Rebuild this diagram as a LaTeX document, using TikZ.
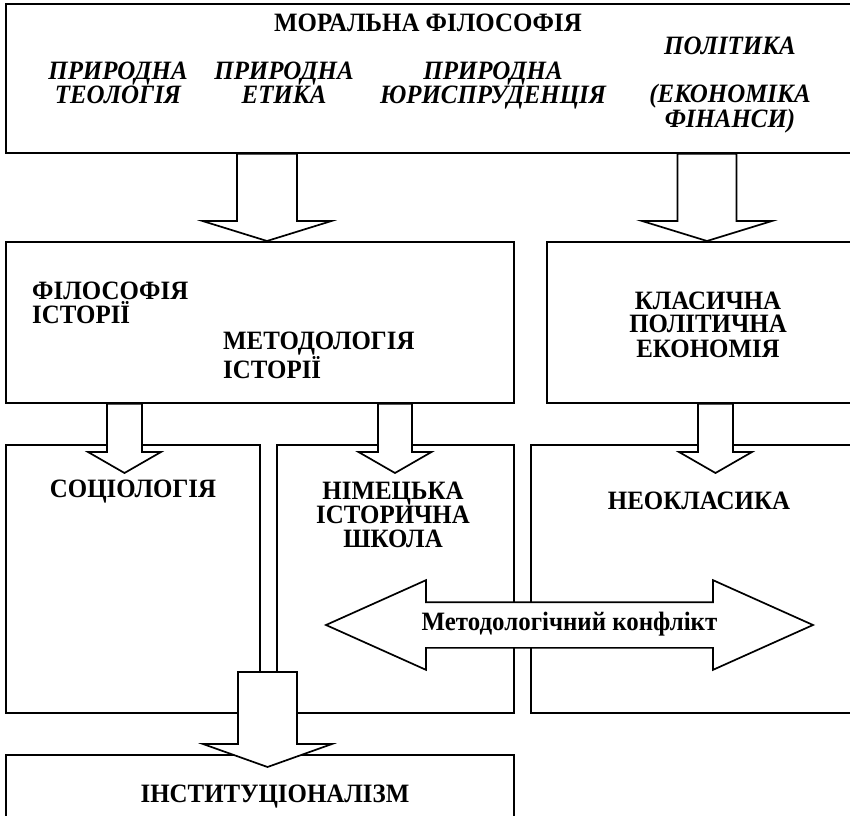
\documentclass[tikz,border=0pt]{standalone}
\usepackage{fontspec}
\setmainfont{Liberation Serif}[FakeStretch=0.94]
\usetikzlibrary{calc, shapes.arrows}

% wide hollow arrow pointing down: x, from, to, half shaft, half head, head length, tip depth
\newcommand{\fatdown}[7]{%
  \draw[fatarrow] let \p1 = (#2), \p2 = (#3) in
    (#1pt-#4pt, \y1) -- (#1pt-#4pt, \y2-#7pt+#6pt) -- (#1pt-#5pt, \y2-#7pt+#6pt)
    -- (#1pt, \y2-#7pt) -- (#1pt+#5pt, \y2-#7pt+#6pt) -- (#1pt+#4pt, \y2-#7pt+#6pt)
    -- (#1pt+#4pt, \y1) -- cycle;}

\begin{document}
\begin{tikzpicture}[x=1pt, y=1pt,
    box/.style={draw, line width=1.7pt, anchor=north west, inner sep=0pt},
    lbl/.style={font=\fontsize{26.5}{24}\selectfont\bfseries, inner sep=0pt, align=center},
    ilbl/.style={lbl, font=\fontsize{26.5}{24}\selectfont\bfseries\itshape},
    fatarrow/.style={draw, fill=white, line width=1.7pt},
]
    \useasboundingbox (0,0) rectangle (850,815);
    \clip (0,0) rectangle (850,815);

    % Boxes
    \node[box, minimum width=845pt, minimum height=149pt] (moral) at (5,812) {};
    \node[box, minimum width=508pt, minimum height=161pt] (hist) at (5,574) {};
    \node[box, minimum width=304pt, minimum height=161pt] (classic) at (546,574) {};
    \node[box, minimum width=254pt, minimum height=268pt] (soc) at (5,371) {};
    \node[box, minimum width=237pt, minimum height=268pt] (german) at (276,371) {};
    \node[box, minimum width=320pt, minimum height=268pt] (neo) at (530,371) {};
    \node[box, minimum width=508pt, minimum height=90pt] (inst) at (5,61) {};

    % Arrows between the boxes
    \fatdown{267}{moral.south}{hist.north}{30}{64.5}{20}{0}
    \fatdown{707}{moral.south}{classic.north}{29.5}{65}{20}{0}
    \fatdown{124.5}{hist.south}{soc.north}{17.5}{36.5}{21}{29}
    \fatdown{395}{hist.south}{german.north}{17}{36.5}{21}{29}
    \fatdown{715.5}{classic.south}{neo.north}{17.5}{36.5}{21}{29}
    \coordinate (gap) at (267.5,143);
    \fatdown{267.5}{gap}{inst.north}{29.5}{64.5}{23}{13}

    % Conflict arrow
    \node[double arrow, draw, fill=white, line width=1.7pt, lbl,
          text height=16pt, text depth=5pt, inner ysep=11.5pt, inner xsep=0pt,
          double arrow head extend=22pt, double arrow tip angle=48.3,
          minimum height=487pt] (conflict) at (569.5,190) {Методологічний конфлікт};

    % Labels (base = baseline of the last line)
    \node[lbl, anchor=base] (titletext) at (428,783) {МОРАЛЬНА ФІЛОСОФІЯ};
    \node[ilbl, anchor=base] (theol) at (118,711) {ПРИРОДНА\\ТЕОЛОГІЯ};
    \node[ilbl, anchor=base] (ethics) at (284,711) {ПРИРОДНА\\ЕТИКА};
    \node[ilbl, anchor=base] (jurispr) at (493,711) {ПРИРОДНА\\ЮРИСПРУДЕНЦІЯ};
    \node[ilbl, anchor=base] (politics) at (730,687) {ПОЛІТИКА\\[24pt](ЕКОНОМІКА\\ФІНАНСИ)};
    \node[lbl, align=left, anchor=base west] (philtext) at (32,492) {ФІЛОСОФІЯ\\ІСТОРІЇ};
    \node[lbl, align=left, anchor=base west] (methtext) at (223,437) {МЕТОДОЛОГІЯ\\ІСТОРІЇ};
    \node[lbl, anchor=base] (classictext) at (708,458) {КЛАСИЧНА\\ПОЛІТИЧНА\\ЕКОНОМІЯ};
    \node[lbl, anchor=base] (soctext) at (133,318) {СОЦІОЛОГІЯ};
    \node[lbl, anchor=base] (germantext) at (393,268) {НІМЕЦЬКА\\ІСТОРИЧНА\\ШКОЛА};
    \node[lbl, anchor=base] (neotext) at (699,306) {НЕОКЛАСИКА};
    \node[lbl, anchor=base] (insttext) at (275,13) {ІНСТИТУЦІОНАЛІЗМ};
\end{tikzpicture}
\end{document}
